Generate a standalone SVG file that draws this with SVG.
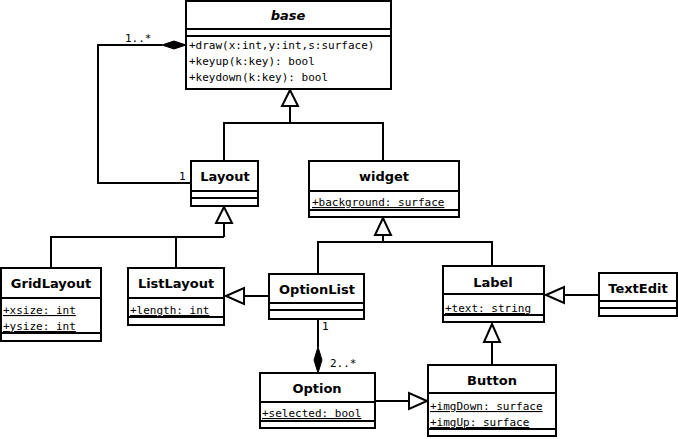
<svg xmlns="http://www.w3.org/2000/svg" width="678" height="439" viewBox="0 0 678 439">
<style>
rect,line.s{fill:#fff;stroke:#000;stroke-width:2}
line,polyline{stroke:#000;stroke-width:2;fill:none}
.n{font-family:"DejaVu Sans",sans-serif;font-weight:bold;font-size:13px;text-anchor:middle}
.a{font-family:"DejaVu Sans Mono",monospace;font-size:11px}
.u{text-decoration:underline}
.tri{fill:#fff;stroke:#000;stroke-width:2}
.dia{fill:#000;stroke:#000;stroke-width:1}
</style>
<rect x="0" y="0" width="678" height="439" style="stroke:none"/>
<g id="connectors">
<polyline points="290,106 290,123"/><polyline points="224,161 224,123 383,123 383,161"/>
<polygon class="tri" points="290,90 282,106 298,106"/>
<polyline points="224,223 224,237"/><polyline points="51,268 51,237 224,237"/><polyline points="176,237 176,268"/>
<polygon class="tri" points="224,207 216,223 232,223"/>
<polyline points="383,235 383,242"/><polyline points="318,274 318,242 492,242 492,266"/>
<polygon class="tri" points="383,218 375,235 391,235"/>
<line x1="244" y1="296" x2="269" y2="296"/><polygon class="tri" points="226,296 244,288 244,304"/>
<line x1="564" y1="295" x2="599" y2="295"/><polygon class="tri" points="546,295 564,287 564,303"/>
<line x1="492" y1="342" x2="492" y2="365"/><polygon class="tri" points="492,324 484,342 500,342"/>
<line x1="375" y1="401" x2="409" y2="401"/><polygon class="tri" points="427,401 409,393 409,409"/>
<polyline points="162,45 98,45 98,183 191,183"/><polygon class="dia" points="186,45 174,41 162,45 174,49"/>
<line x1="318" y1="319" x2="318" y2="347"/><polygon class="dia" points="318,373 314,360 318,347 322,360"/>
<text class="a" x="125" y="42">1..*</text><text class="a" x="179" y="180">1</text>
<text class="a" x="322" y="330">1</text><text class="a" x="330" y="367">2..*</text>
</g>
<g id="base"><rect x="186" y="1" width="205" height="88"/><line x1="186" y1="29" x2="391" y2="29"/><line x1="186" y1="36" x2="391" y2="36"/>
<text class="n" x="288" y="20" font-style="italic">base</text>
<text class="a" x="189" y="49">+draw(x:int,y:int,s:surface)</text><text class="a" x="189" y="65">+keyup(k:key): bool</text><text class="a" x="189" y="81">+keydown(k:key): bool</text></g>
<g id="Layout"><rect x="191" y="161" width="67" height="45"/><line x1="191" y1="191" x2="258" y2="191"/><line x1="191" y1="198" x2="258" y2="198"/>
<text class="n" x="225" y="181">Layout</text></g>
<g id="widget"><rect x="309" y="161" width="150" height="56"/><line x1="309" y1="191" x2="459" y2="191"/><line x1="309" y1="210" x2="459" y2="210"/>
<text class="n" x="384" y="181">widget</text><text class="a u" x="312" y="206">+background: surface</text></g>
<g id="GridLayout"><rect x="1" y="268" width="100" height="73"/><line x1="1" y1="298" x2="101" y2="298"/><line x1="1" y1="333" x2="101" y2="333"/>
<text class="n" x="51" y="288">GridLayout</text><text class="a u" x="3" y="314">+xsize: int</text><text class="a u" x="3" y="330">+ysize: int</text></g>
<g id="ListLayout"><rect x="128" y="268" width="96" height="57"/><line x1="128" y1="298" x2="224" y2="298"/><line x1="128" y1="317" x2="224" y2="317"/>
<text class="n" x="176" y="288">ListLayout</text><text class="a u" x="130" y="314">+length: int</text></g>
<g id="OptionList"><rect x="269" y="274" width="95" height="45"/><line x1="269" y1="303" x2="364" y2="303"/><line x1="269" y1="310" x2="364" y2="310"/>
<text class="n" x="317" y="294">OptionList</text></g>
<g id="Label"><rect x="443" y="266" width="101" height="56"/><line x1="443" y1="294" x2="544" y2="294"/><line x1="443" y1="315" x2="544" y2="315"/>
<text class="n" x="493" y="287">Label</text><text class="a u" x="445" y="312">+text: string</text></g>
<g id="TextEdit"><rect x="599" y="273" width="78" height="43"/><line x1="599" y1="301" x2="677" y2="301"/><line x1="599" y1="308" x2="677" y2="308"/>
<text class="n" x="638" y="293">TextEdit</text></g>
<g id="Option"><rect x="260" y="373" width="115" height="55"/><line x1="260" y1="402" x2="375" y2="402"/><line x1="260" y1="421" x2="375" y2="421"/>
<text class="n" x="317" y="393">Option</text><text class="a u" x="262" y="417">+selected: bool</text></g>
<g id="Button"><rect x="428" y="365" width="128" height="71"/><line x1="428" y1="393" x2="556" y2="393"/><line x1="428" y1="429" x2="556" y2="429"/>
<text class="n" x="492" y="385">Button</text><text class="a u" x="430" y="410">+imgDown: surface</text><text class="a u" x="430" y="426">+imgUp: surface</text></g>
</svg>
